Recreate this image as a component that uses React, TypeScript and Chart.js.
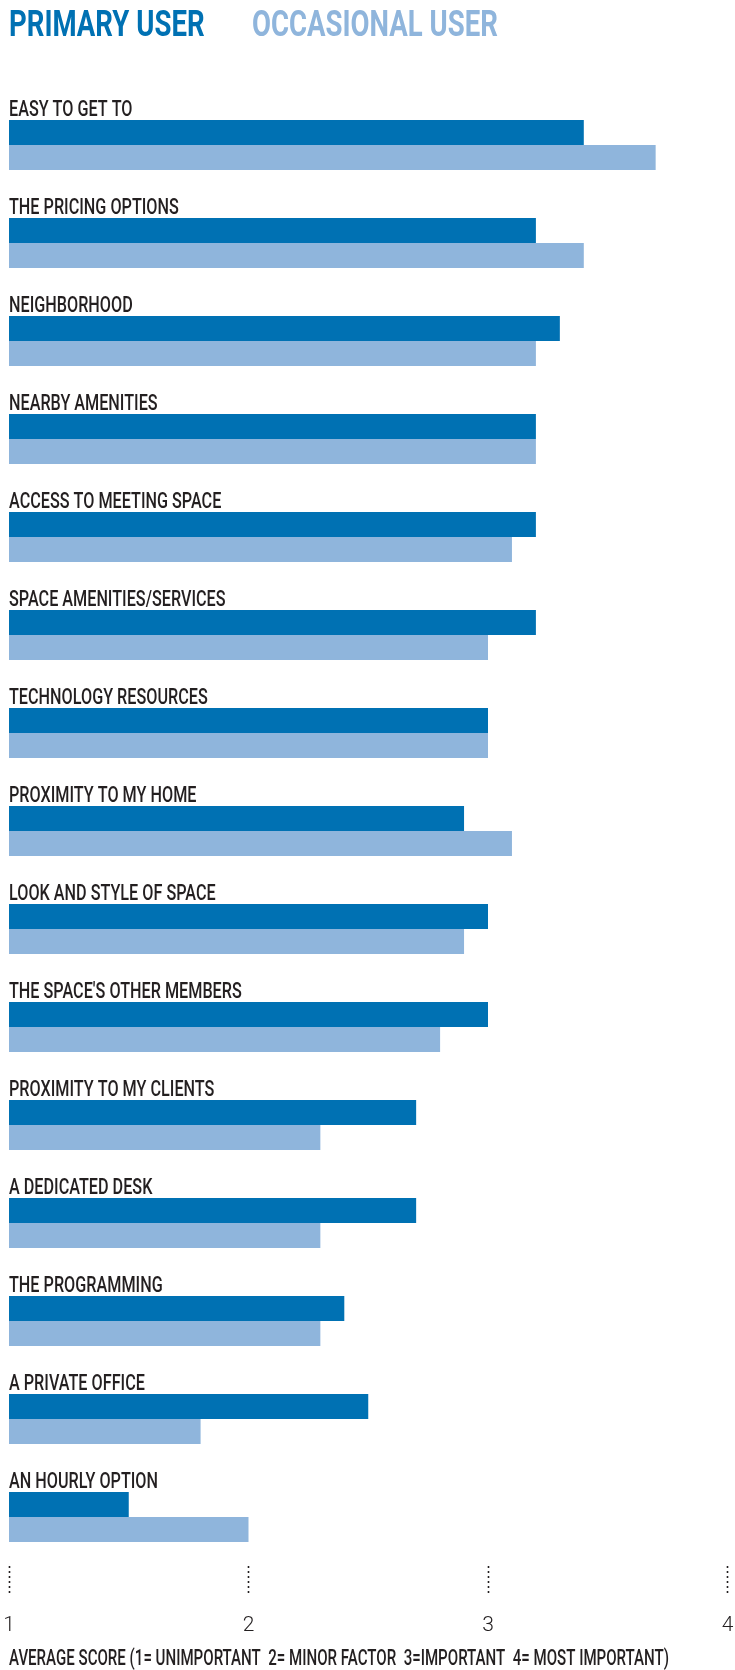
import React, { useEffect, useRef } from "react";
import { Chart, registerables } from "chart.js";

Chart.register(...registerables);

// ---- data ----
const categories = [
  "EASY TO GET TO",
  "THE PRICING OPTIONS",
  "NEIGHBORHOOD",
  "NEARBY AMENITIES",
  "ACCESS TO MEETING SPACE",
  "SPACE AMENITIES/SERVICES",
  "TECHNOLOGY RESOURCES",
  "PROXIMITY TO MY HOME",
  "LOOK AND STYLE OF SPACE",
  "THE SPACE'S OTHER MEMBERS",
  "PROXIMITY TO MY CLIENTS",
  "A DEDICATED DESK",
  "THE PROGRAMMING",
  "A PRIVATE OFFICE",
  "AN HOURLY OPTION",
];
const primaryScores = [3.4, 3.2, 3.3, 3.2, 3.2, 3.2, 3.0, 2.9, 3.0, 3.0, 2.7, 2.7, 2.4, 2.5, 1.5];
const occasionalScores = [3.7, 3.4, 3.2, 3.2, 3.1, 3.0, 3.0, 3.1, 2.9, 2.8, 2.3, 2.3, 2.3, 1.8, 2.0];
const seriesNames = ["PRIMARY USER", "OCCASIONAL USER"];
const scoreTicks = [1, 2, 3, 4];
const axisTitle = "AVERAGE SCORE (1= UNIMPORTANT  2= MINOR FACTOR  3=IMPORTANT  4= MOST IMPORTANT)";

// ---- style ----
const PRIMARY_COLOR = "#0071b3";
const OCCASIONAL_COLOR = "#8fb5dc";
const TEXT_COLOR = "#231f20";
const CAT_PCT = 0.51;
const W = 735;
const H = 1670;

function drawSquashed(ctx: CanvasRenderingContext2D, text: string, x: number, y: number, sx: number) {
  ctx.save();
  ctx.translate(x, y);
  ctx.scale(sx, 1);
  ctx.fillText(text, 0, 0);
  ctx.restore();
}

const textPlugin = {
  id: "condensedText",
  afterDatasetsDraw(chart: any) {
    const ctx: CanvasRenderingContext2D = chart.ctx;
    const ys = chart.scales.y;
    const xs = chart.scales.x;
    ctx.save();
    ctx.textAlign = "left";
    ctx.textBaseline = "alphabetic";

    // category labels above each bar pair
    ctx.font = "500 22.5px Roboto";
    ctx.fillStyle = TEXT_COLOR;
    const pitch = ys.getPixelForValue(1) - ys.getPixelForValue(0);
    const half = (pitch * CAT_PCT) / 2;
    categories.forEach((c, i) => {
      const py = ys.getPixelForValue(i) - half - 4.5;
      drawSquashed(ctx, c, xs.left, py, 0.72);
    });

    // header legend (series names in their colours)
    ctx.font = "700 36.5px Roboto";
    const headerX = [9, 252];
    chart.data.datasets.forEach((ds: any, i: number) => {
      ctx.fillStyle = ds.backgroundColor;
      drawSquashed(ctx, ds.label, headerX[i], 35.5, 0.755);
    });

    // axis title
    ctx.font = "500 22px Roboto";
    ctx.fillStyle = TEXT_COLOR;
    const w = ctx.measureText(axisTitle).width;
    drawSquashed(ctx, axisTitle, xs.left, 1665, 660 / w);
    ctx.restore();
  },
};

export default function App() {
  const ref = useRef<HTMLCanvasElement | null>(null);

  useEffect(() => {
    if (!ref.current) return;
    const chart = new Chart(ref.current, {
      type: "bar",
      data: {
        labels: categories,
        datasets: [
          {
            label: seriesNames[0],
            data: primaryScores,
            backgroundColor: PRIMARY_COLOR,
            borderWidth: 0,
            barPercentage: 1,
            categoryPercentage: CAT_PCT,
          },
          {
            label: seriesNames[1],
            data: occasionalScores,
            backgroundColor: OCCASIONAL_COLOR,
            borderWidth: 0,
            barPercentage: 1,
            categoryPercentage: CAT_PCT,
          },
        ],
      },
      options: {
        indexAxis: "y",
        responsive: false,
        maintainAspectRatio: false,
        devicePixelRatio: 1,
        animation: false,
        layout: { padding: { left: 9, right: 7.5, top: 96, bottom: 0 } },
        plugins: {
          legend: { display: false },
          tooltip: { enabled: false },
          title: { display: false },
        },
        scales: {
          y: {
            type: "category",
            display: false,
            offset: true,
          },
          x: {
            type: "linear",
            position: "bottom",
            min: 1,
            max: 4,
            afterBuildTicks: (s: any) => {
              s.ticks = scoreTicks.map((v) => ({ value: v }));
            },
            afterFit: (s: any) => {
              s.height = 104;
              s.paddingLeft = 0;
              s.paddingRight = 0;
            },
            border: { display: false },
            grid: {
              display: true,
              drawOnChartArea: false,
              drawTicks: true,
              tickLength: 30,
              tickColor: TEXT_COLOR,
              tickWidth: 1.6,
              tickBorderDash: [2, 3],
            },
            ticks: {
              color: TEXT_COLOR,
              padding: 17,
              maxRotation: 0,
              autoSkip: false,
              font: { family: "Roboto", size: 21, weight: "300" },
              callback: (v: any) => String(v),
            },
          },
        },
      },
      plugins: [textPlugin],
    } as any);
    return () => chart.destroy();
  }, []);

  return (
    <div style={{ position: "absolute", left: 0, top: 0, width: W, height: H, background: "#fff" }}>
      <canvas ref={ref} width={W} height={H} style={{ display: "block", width: W, height: H }} />
    </div>
  );
}
